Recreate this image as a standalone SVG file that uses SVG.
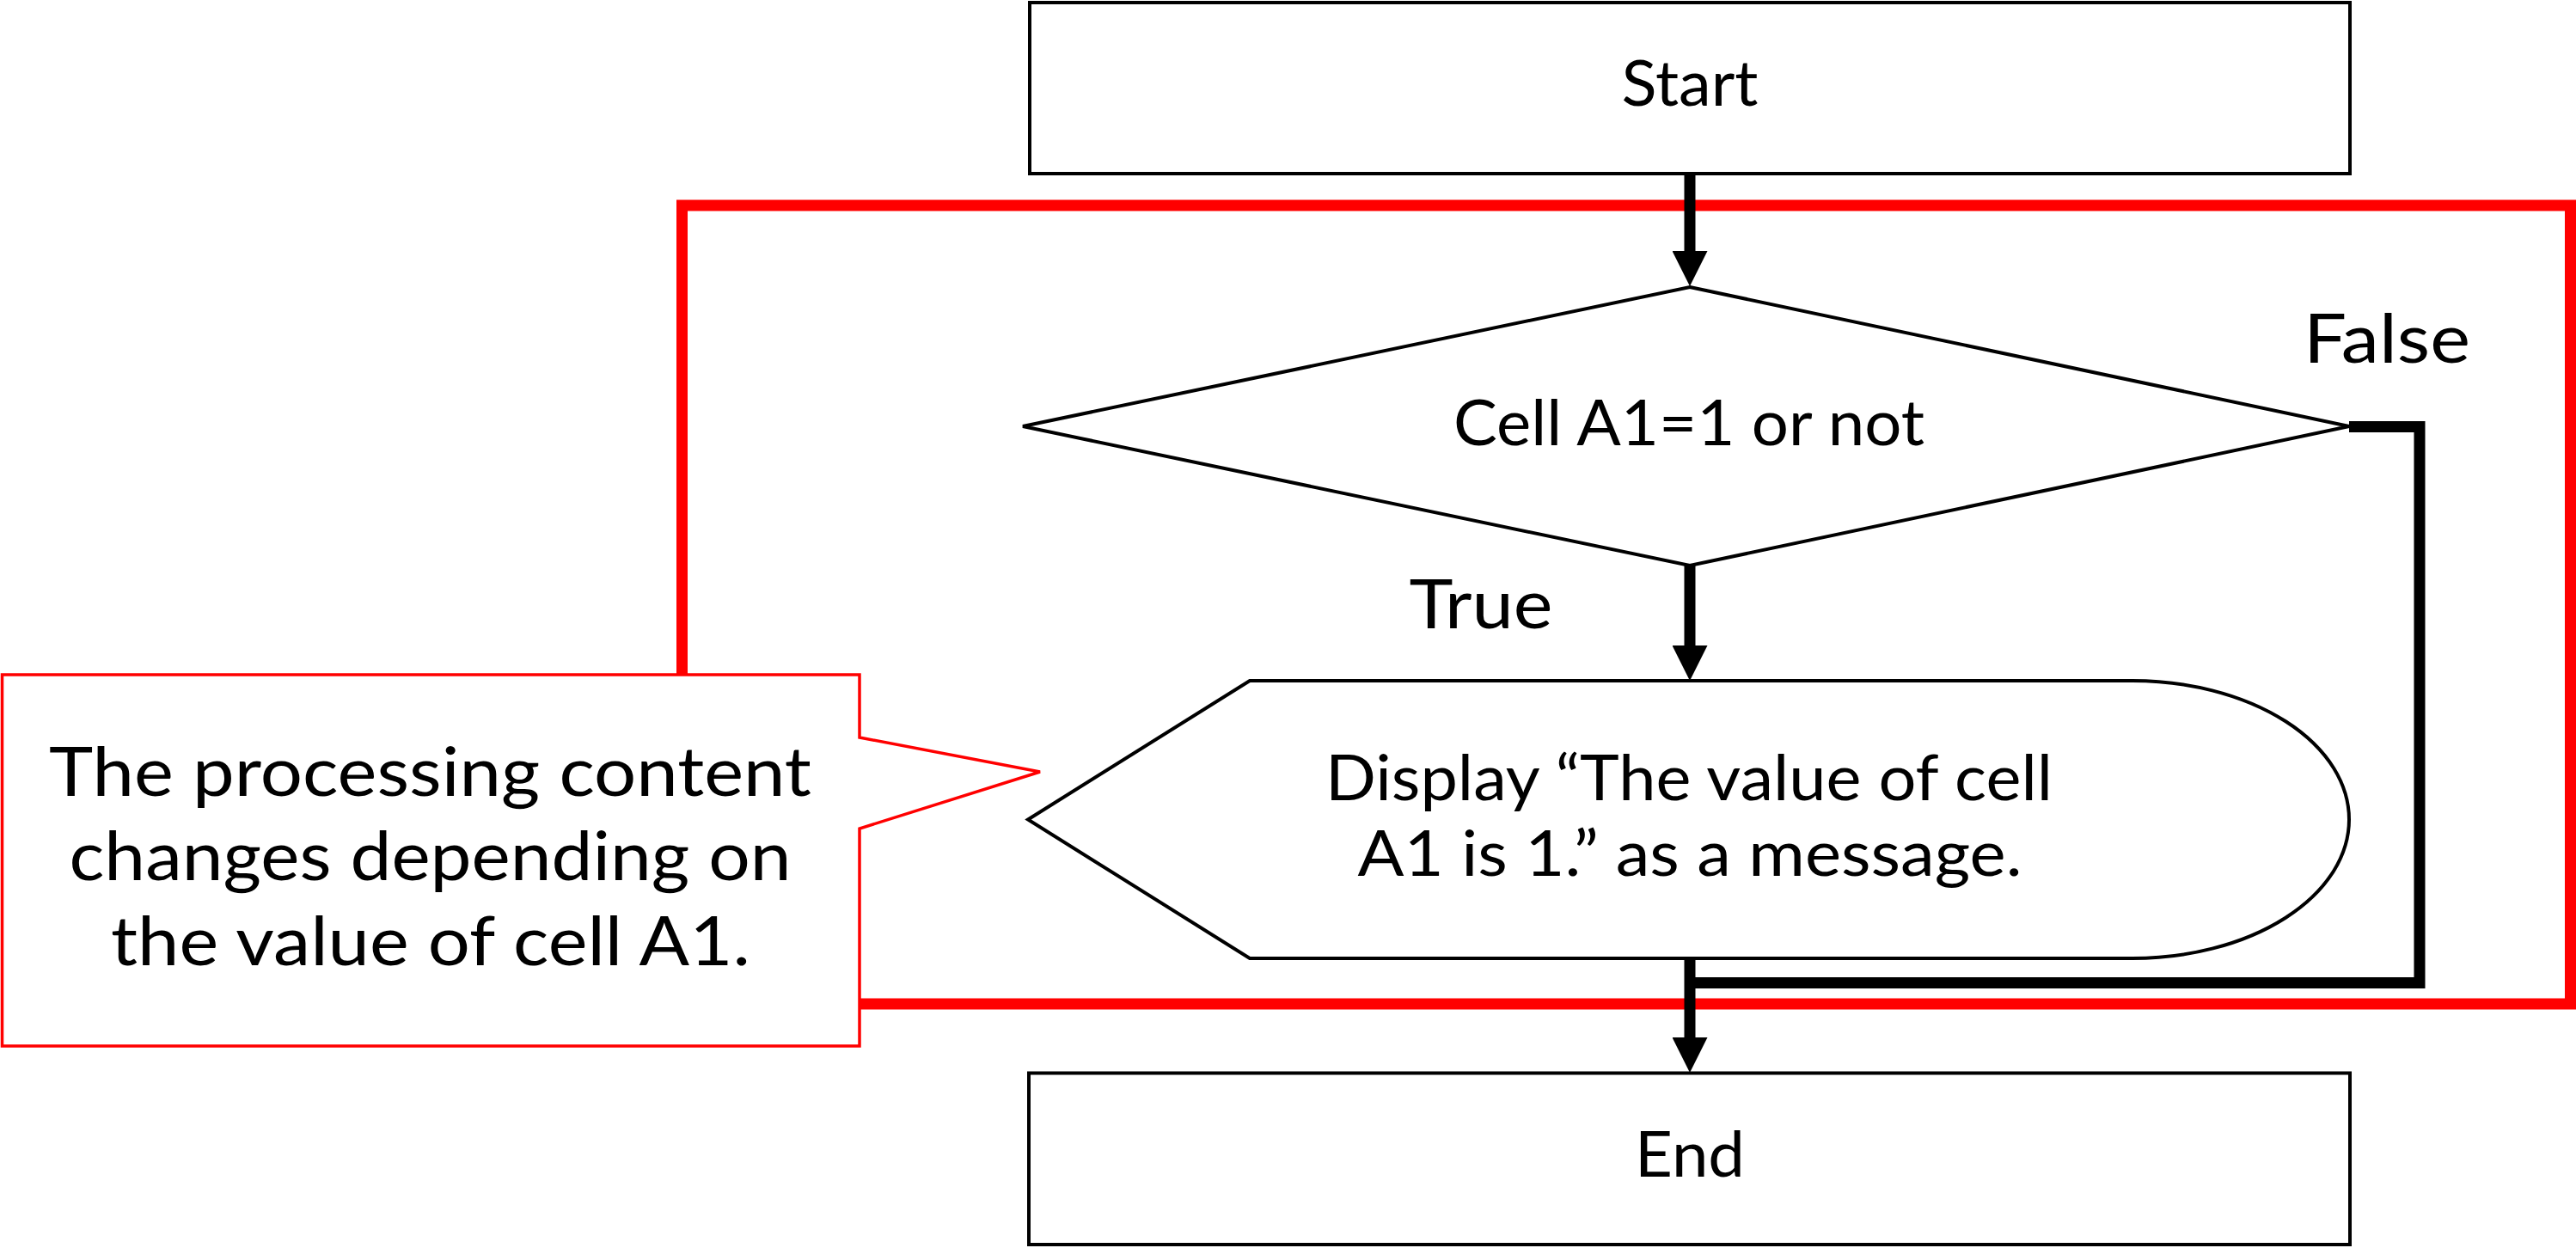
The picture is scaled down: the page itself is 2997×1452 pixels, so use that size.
<svg xmlns="http://www.w3.org/2000/svg" width="2997" height="1452" viewBox="0 0 2997 1452">
<style>
.node{fill:#fff;stroke:#000;stroke-width:4;}
.conn{fill:none;stroke:#000;stroke-width:13;stroke-linejoin:miter;}
.frame{fill:none;stroke:#ff0000;stroke-width:13;}
.callout{fill:#fff;stroke:#ff0000;stroke-width:3.5;}
.t{font-family:Lato,"Noto Sans",sans-serif;fill:#000;text-anchor:middle;}
.s{font-size:73px;}
.l{font-size:80px;}
</style>
<defs>
<marker id="ah" markerUnits="userSpaceOnUse" markerWidth="41" markerHeight="41" refX="2" refY="20.5" orient="auto">
<path d="M0,0 L41,20.5 L0,41 Z" fill="#000"/>
</marker>
</defs>
<rect width="2997" height="1452" fill="#fff"/>
<g id="frame">
<rect class="frame" x="793.5" y="239" width="2197" height="929"/>
</g>
<g id="connectors">
<line class="conn" x1="1966" y1="202" x2="1966" y2="294" marker-end="url(#ah)"/>
<line class="conn" x1="1966" y1="658" x2="1966" y2="753" marker-end="url(#ah)"/>
<line class="conn" x1="1966" y1="1115" x2="1966" y2="1209" marker-end="url(#ah)"/>
<path class="conn" d="M2733,496.5 H2815 V1143.5 H1966"/>
</g>
<g id="start">
<rect class="node" x="1198" y="3" width="1536" height="199"/>
<text class="t s" x="1966" y="123" textLength="159" lengthAdjust="spacingAndGlyphs">Start</text>
</g>
<g id="decision">
<polygon class="node" points="1966,334 2733,496 1966,658 1190,496"/>
<text class="t s" x="1965" y="518" textLength="548" lengthAdjust="spacingAndGlyphs">Cell A1=1 or not</text>
</g>
<g id="label-true">
<text class="t l" x="1723" y="731" textLength="167" lengthAdjust="spacingAndGlyphs">True</text>
</g>
<g id="label-false">
<text class="t l" x="2777" y="422" textLength="194" lengthAdjust="spacingAndGlyphs">False</text>
</g>
<g id="display">
<path class="node" d="M1196,953.5 L1454,792 L2481,792 A252,161.5 0 0 1 2481,1115 L1454,1115 Z"/>
<text class="t s" x="1965" y="931" textLength="846" lengthAdjust="spacingAndGlyphs">Display “The value of cell</text>
<text class="t s" x="1966" y="1019" textLength="773" lengthAdjust="spacingAndGlyphs">A1 is 1.” as a message.</text>
</g>
<g id="end">
<rect class="node" x="1197" y="1248.5" width="1537" height="199.5"/>
<text class="t s" x="1966" y="1369" textLength="128" lengthAdjust="spacingAndGlyphs">End</text>
</g>
<g id="note">
<path class="callout" d="M2.5,785 H1000 V858 L1210,898 L1000,964 V1217 H2.5 Z"/>
<text class="t l" x="500.5" y="926" textLength="887" lengthAdjust="spacingAndGlyphs">The processing content</text>
<text class="t l" x="500.5" y="1024" textLength="840" lengthAdjust="spacingAndGlyphs">changes depending on</text>
<text class="t l" x="501" y="1123" textLength="744" lengthAdjust="spacingAndGlyphs">the value of cell A1.</text>
</g>
</svg>
